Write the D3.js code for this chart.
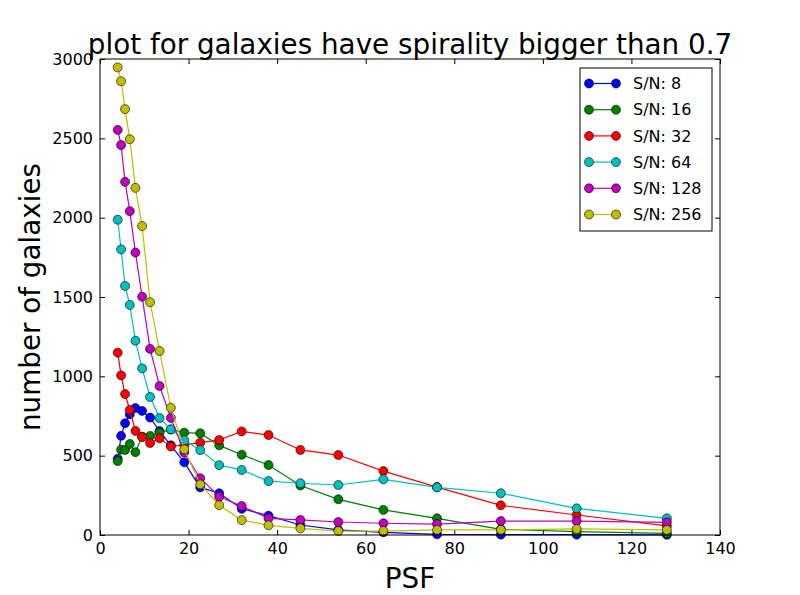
<!doctype html>
<html lang="en">
<head>
    <meta charset="utf-8">
    <title>galaxies spirality</title>
    <script src="https://cdnjs.cloudflare.com/ajax/libs/d3/7.8.5/d3.min.js"></script>
    <style>
        body { margin: 0; background: #fff; }
        svg { font-family: "DejaVu Sans", sans-serif; }
        .axis path { display: none; }
        .axis line { stroke: #000; }
        .axis text { font-family: "DejaVu Sans", sans-serif; font-size: 16px; fill: #000; }
    </style>
</head>
<body>
    <div id="chart"></div>
    <script>
        // PSF values (x)
        var psf = [4, 4.76, 5.66, 6.73, 8, 9.51, 11.31, 13.45, 16, 19.03, 22.63, 26.91,
                   32, 38.05, 45.25, 53.82, 64, 76.11, 90.51, 107.63, 128];

        // number of galaxies for each S/N
        var sn8   = [480, 625, 704, 760, 800, 782, 740, 655, 565, 458, 300, 263,
                     165, 122, 63, 32, 17, 4, 2, 2, 1];
        var sn16  = [466, 538, 536, 574, 522, 620, 624, 645, 665, 645, 641, 565,
                     506, 441, 312, 225, 158, 105, 36, 21, 10];
        var sn32  = [1149, 1006, 888, 788, 656, 617, 580, 609, 558, 568, 582, 599,
                     653, 630, 536, 504, 403, 302, 187, 126, 57];
        var sn64  = [1987, 1800, 1570, 1450, 1224, 1050, 870, 737, 666, 597, 535, 440,
                     410, 340, 326, 315, 351, 300, 263, 168, 105];
        var sn128 = [2553, 2458, 2226, 2041, 1780, 1502, 1173, 939, 738, 520, 358, 241,
                     183, 105, 95, 82, 74, 69, 88, 88, 80];
        var sn256 = [2947, 2860, 2684, 2494, 2188, 1947, 1467, 1160, 802, 540, 319, 188,
                     94, 61, 42, 25, 25, 32, 32, 38, 32];

        var seriesNames = ["S/N: 8", "S/N: 16", "S/N: 32", "S/N: 64", "S/N: 128", "S/N: 256"];
        var seriesValues = [sn8, sn16, sn32, sn64, sn128, sn256];
        var colors = ["#0000ff", "#008000", "#ff0000", "#00bfbf", "#bf00bf", "#bfbf00"];

        var xTicks = [0, 20, 40, 60, 80, 100, 120, 140];
        var yTicks = [0, 500, 1000, 1500, 2000, 2500, 3000];

        var width = 800, height = 595;
        var plotLeft = 100, plotRight = 720, plotTop = 59, plotBottom = 535;

        var svg = d3.select("#chart").append("svg")
            .attr("width", width)
            .attr("height", height);

        var x = d3.scaleLinear().domain([0, 140]).range([plotLeft, plotRight]);
        var y = d3.scaleLinear().domain([0, 3000]).range([plotBottom, plotTop]);

        // ticks pointing inward on all four sides
        svg.append("g").attr("class", "axis")
            .attr("transform", "translate(0," + plotBottom + ")")
            .call(d3.axisBottom(x).tickValues(xTicks).tickSize(-5).tickPadding(8));
        svg.append("g").attr("class", "axis")
            .attr("transform", "translate(0," + plotTop + ")")
            .call(d3.axisTop(x).tickValues(xTicks).tickSize(-5).tickFormat(""));
        svg.append("g").attr("class", "axis")
            .attr("transform", "translate(" + plotLeft + ",0)")
            .call(d3.axisLeft(y).tickValues(yTicks).tickSize(-5).tickPadding(7).tickFormat(d3.format("d")));
        svg.append("g").attr("class", "axis")
            .attr("transform", "translate(" + plotRight + ",0)")
            .call(d3.axisRight(y).tickValues(yTicks).tickSize(-5).tickFormat(""));

        // lines + markers, one series after another
        var line = d3.line()
            .x(function(d, i) { return x(psf[i]); })
            .y(function(d) { return y(d); });

        var plot = svg.append("g");
        seriesValues.forEach(function(vals, k) {
            var g = plot.append("g");
            g.append("path")
                .attr("d", line(vals))
                .attr("fill", "none")
                .attr("stroke", colors[k])
                .attr("stroke-width", 1.2);
            g.selectAll("circle")
                .data(vals)
                .enter()
                .append("circle")
                .attr("cx", function(d, i) { return x(psf[i]); })
                .attr("cy", function(d) { return y(d); })
                .attr("r", 4.5)
                .attr("fill", colors[k])
                .attr("stroke", "#000")
                .attr("stroke-width", 0.6);
        });

        // frame
        svg.append("rect")
            .attr("x", plotLeft).attr("y", plotTop)
            .attr("width", plotRight - plotLeft).attr("height", plotBottom - plotTop)
            .attr("fill", "none")
            .attr("stroke", "#000")
            .attr("stroke-width", 1);

        // legend
        var legend = svg.append("g").attr("transform", "translate(580,68)");
        legend.append("rect")
            .attr("width", 132).attr("height", 163)
            .attr("fill", "#fff")
            .attr("stroke", "#000")
            .attr("stroke-width", 1);
        var items = legend.selectAll("g.item")
            .data(seriesNames)
            .enter()
            .append("g")
            .attr("class", "item")
            .attr("transform", function(d, i) { return "translate(0," + (15.5 + i * 26.2) + ")"; });
        items.append("line")
            .attr("x1", 9).attr("x2", 36)
            .attr("stroke", function(d, i) { return colors[i]; })
            .attr("stroke-width", 1.2);
        items.selectAll("circle")
            .data(function(d, i) { return [i, i]; })
            .enter()
            .append("circle")
            .attr("cx", function(d, j) { return j === 0 ? 9 : 36; })
            .attr("r", 4.5)
            .attr("fill", function(d) { return colors[d]; })
            .attr("stroke", "#000")
            .attr("stroke-width", 0.6);
        items.append("text")
            .attr("x", 53)
            .attr("dy", "0.35em")
            .attr("font-size", 16)
            .text(function(d) { return d; });

        // title and axis labels
        svg.append("text")
            .attr("x", (plotLeft + plotRight) / 2).attr("y", 54)
            .attr("text-anchor", "middle")
            .attr("font-size", 27.8)
            .text("plot for galaxies have spirality bigger than 0.7");
        svg.append("text")
            .attr("x", (plotLeft + plotRight) / 2).attr("y", 588)
            .attr("text-anchor", "middle")
            .attr("font-size", 27.8)
            .text("PSF");
        svg.append("text")
            .attr("transform", "translate(40," + (plotTop + plotBottom) / 2 + ") rotate(-90)")
            .attr("text-anchor", "middle")
            .attr("font-size", 27.8)
            .text("number of galaxies");
    </script>
</body>
</html>
